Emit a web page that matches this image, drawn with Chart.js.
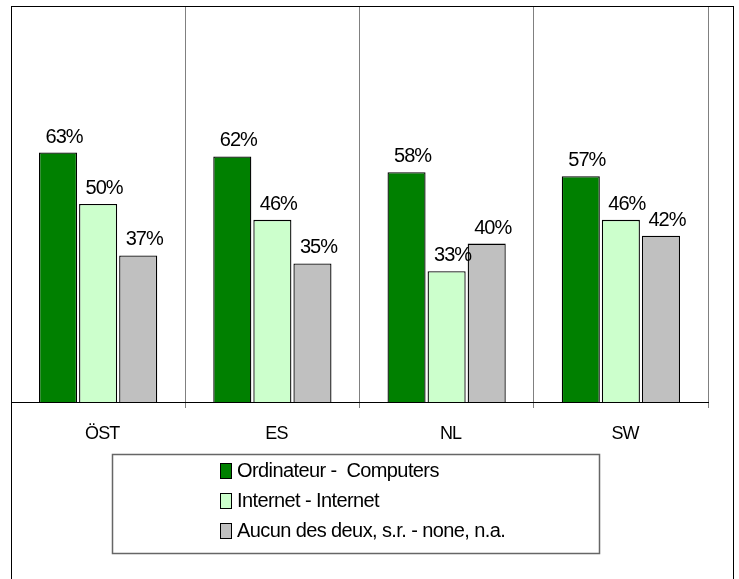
<!DOCTYPE html>
<html>
<head>
<meta charset="utf-8">
<script src="https://cdn.jsdelivr.net/npm/chart.js@4.4.0/dist/chart.umd.min.js"></script>
<style>
  html, body { margin: 0; padding: 0; background: #fff; }
  canvas { display: block; }
</style>
</head>
<body>
<canvas id="chart" width="739" height="579"></canvas>
<script>
const pays = ['ÖST', 'ES', 'NL', 'SW'];
const ordinateur = [63, 62, 58, 57];
const internet = [50, 46, 33, 46];
const aucun = [37, 35, 40, 42];
const noms = ['Ordinateur -  Computers', 'Internet - Internet', 'Aucun des deux, s.r. - none, n.a.'];
const couleurs = ['#008000', '#CCFFCC', '#C0C0C0'];

const fond = {
  id: 'fond',
  beforeDraw(chart) {
    const ctx = chart.ctx;
    ctx.save();
    ctx.fillStyle = '#fff';
    ctx.fillRect(0, 0, chart.width, chart.height);
    ctx.restore();
    // texte serre comme dans l'original
    ctx.letterSpacing = '-1px';
  },
  afterDraw(chart) {
    const ctx = chart.ctx;
    ctx.save();
    ctx.strokeStyle = '#000';
    ctx.lineWidth = 1;
    ctx.strokeRect(11.5, 6.5, 722, 620);
    ctx.restore();
  }
};

// etiquettes au-dessus des barres
const etiquettes = {
  id: 'etiquettes',
  afterDatasetsDraw(chart) {
    const ctx = chart.ctx;
    ctx.save();
    ctx.font = '20px "Liberation Sans", Arial, sans-serif';
    ctx.letterSpacing = '-1px';
    ctx.fillStyle = '#000';
    ctx.textAlign = 'center';
    ctx.textBaseline = 'alphabetic';
    chart.data.datasets.forEach((ds, i) => {
      chart.getDatasetMeta(i).data.forEach((bar, j) => {
        ctx.fillText(ds.data[j] + '%', bar.x + 6, bar.y - 10);
      });
    });
    ctx.restore();
  }
};

// legende encadree
const legende = {
  id: 'legende',
  afterDraw(chart) {
    const ctx = chart.ctx;
    ctx.save();
    ctx.strokeStyle = '#666';
    ctx.lineWidth = 1.5;
    ctx.strokeRect(112.5, 454.5, 487, 99);
    ctx.font = '20px "Liberation Sans", Arial, sans-serif';
    ctx.letterSpacing = '-0.6px';
    ctx.textBaseline = 'middle';
    ctx.textAlign = 'left';
    chart.data.datasets.forEach((ds, i) => {
      const y = 471 + i * 30;
      ctx.fillStyle = ds.backgroundColor;
      ctx.fillRect(220.5, y - 7.5, 11, 15);
      ctx.strokeStyle = '#000';
      ctx.lineWidth = 1;
      ctx.strokeRect(220.5, y - 7.5, 11, 15);
      ctx.fillStyle = '#000';
      ctx.fillText(ds.label, 237, y);
    });
    ctx.restore();
  }
};

const serie = (label, data, i) => ({
  label: label,
  data: data,
  backgroundColor: couleurs[i],
  borderColor: '#000',
  borderWidth: 1.3,
  categoryPercentage: 0.69,
  barPercentage: 0.95
});

new Chart(document.getElementById('chart'), {
  type: 'bar',
  data: {
    labels: pays,
    datasets: [
      serie(noms[0], ordinateur, 0),
      serie(noms[1], internet, 1),
      serie(noms[2], aucun, 2)
    ]
  },
  plugins: [fond, etiquettes, legende],
  options: {
    responsive: false,
    animation: false,
    layout: { padding: { left: 11, top: 6, right: 31, bottom: 0 } },
    plugins: {
      legend: { display: false },
      tooltip: { enabled: false }
    },
    scales: {
      x: {
        afterFit(scale) { scale.height = 177; },
        grid: {
          offset: true,
          color: (c) => c.index === 4 ? '#b0b0b0' : '#808080',
          lineWidth: (c) => c.index === 4 ? 2 : 1,
          tickLength: 6
        },
        border: { color: '#000', width: 1 },
        ticks: {
          color: '#000',
          padding: 15,
          labelOffset: 4,
          font: { family: '"Liberation Sans", Arial, sans-serif', size: 18 }
        }
      },
      y: {
        display: false,
        min: 0,
        max: 100
      }
    }
  }
});
</script>
</body>
</html>
